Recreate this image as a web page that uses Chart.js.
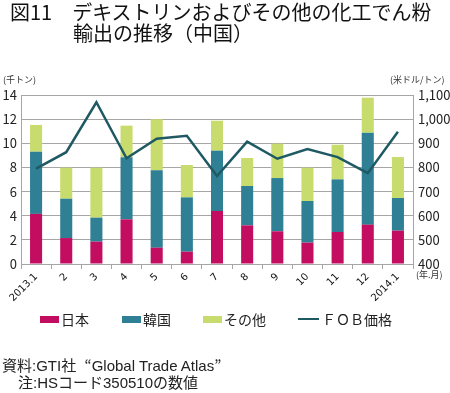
<!DOCTYPE html>
<html>
<head>
<meta charset="utf-8">
<script src="https://cdn.jsdelivr.net/npm/chart.js@4"></script>
<style>
  body { margin: 0; background: #fff; font-family: "Noto Sans CJK JP", sans-serif; color: #222; }
  #wrap { position: relative; width: 450px; height: 393px; overflow: hidden; }
  #myChart { position: absolute; left: 0; top: 0; }
  .t { position: absolute; white-space: nowrap; }
  .title { font-size: 20px; line-height: 20px; color: #111; }
  .unit { font-size: 9px; color: #333; }
  .leg { font-size: 14px; line-height: 14px; }
  .box { position: absolute; width: 19px; height: 7px; }
  .foot { font-size: 15px; line-height: 16px; font-family: "Liberation Sans", "Noto Sans CJK JP", sans-serif; }
  .cjk { font-family: "Noto Sans CJK JP", sans-serif; }
</style>
</head>
<body>
<div id="wrap">
  <canvas id="myChart" width="450" height="393"></canvas>
  <div class="t title" style="left:10px;top:2px;">図11　デキストリンおよびその他の化工でん粉</div>
  <div class="t title" style="left:73px;top:23px;">輸出の推移（中国）</div>
  <div class="t unit" style="left:3px;top:73px;">(千トン)</div>
  <div class="t unit" style="left:390px;top:73px;">(米ドル/トン)</div>
  <div class="t unit" style="left:416px;top:268px;">(年.月)</div>

  <div class="box" style="left:40px;top:316px;background:#C20D60;"></div>
  <div class="t leg" style="left:61px;top:312px;">日本</div>
  <div class="box" style="left:122px;top:316px;background:#2F7F95;"></div>
  <div class="t leg" style="left:143px;top:312px;">韓国</div>
  <div class="box" style="left:203px;top:316px;background:#C8DC6E;"></div>
  <div class="t leg" style="left:224px;top:312px;">その他</div>
  <div class="box" style="left:298px;top:318px;height:2px;width:21px;background:#1F5A64;"></div>
  <div class="t leg" style="left:322px;top:312px;">ＦＯＢ価格</div>

  <div class="t foot" style="left:2px;top:357px;">資料:GTI社&nbsp;&nbsp;<span class="cjk">“</span>Global Trade Atlas<span class="cjk">”</span></div>
  <div class="t foot" style="left:18px;top:375px;">注:HSコード350510の数値</div>
</div>
<script>
var months = ["2013.1", "2", "3", "4", "5", "6", "7", "8", "9", "10", "11", "12", "2014.1"];
var japan = [4.15, 2.15, 1.85, 3.7, 1.35, 1.02, 4.39, 3.2, 2.71, 1.77, 2.65, 3.26, 2.76];
var korea = [5.15, 3.26, 1.99, 5.14, 6.41, 4.5, 5.0, 3.26, 4.41, 3.45, 4.36, 7.62, 2.71];
var others = [2.22, 2.57, 4.14, 2.62, 4.23, 2.68, 2.48, 2.32, 2.85, 2.76, 2.87, 2.9, 3.39];
var fobPrice = [795, 863, 1070, 838, 919, 931, 764, 907, 836, 876, 843, 776, 948];

var gridColor = "#a6a6a6";
var tickFont = { family: "'Noto Sans CJK JP', sans-serif", size: 13 };

new Chart("myChart", {
  type: "bar",
  data: {
    labels: months,
    datasets: [
      { type: "line", label: "ＦＯＢ価格", data: fobPrice, yAxisID: "y1",
        borderColor: "#1F5A64", borderWidth: 2.5, pointRadius: 0, tension: 0, order: 0 },
      { label: "日本", data: japan, backgroundColor: "#C20D60", yAxisID: "y", order: 1 },
      { label: "韓国", data: korea, backgroundColor: "#2F7F95", yAxisID: "y", order: 1 },
      { label: "その他", data: others, backgroundColor: "#C8DC6E", yAxisID: "y", order: 1 },
    ],
  },
  options: {
    responsive: false,
    animation: false,
    barPercentage: 0.4,
    categoryPercentage: 1,
    layout: { padding: { top: 95, bottom: 89, left: 0, right: 0 } },
    plugins: { legend: { display: false }, tooltip: { enabled: false } },
    scales: {
      x: {
        stacked: true,
        afterFit: function (s) { s.height = 40; },
        grid: { drawOnChartArea: false, drawTicks: true, tickLength: 5, color: gridColor, offset: true },
        border: { color: gridColor },
        ticks: { minRotation: 45, maxRotation: 45, color: "#111", padding: 2,
          font: { family: "'DejaVu Sans', sans-serif", size: 10 } },
      },
      y: {
        stacked: true,
        position: "left",
        min: 0, max: 14,
        afterFit: function (s) { s.width = 21; },
        grid: { color: gridColor, drawTicks: false },
        border: { color: gridColor },
        ticks: { stepSize: 2, padding: 4, color: "#222", font: tickFont },
      },
      y1: {
        position: "right",
        min: 400, max: 1100,
        afterFit: function (s) { s.width = 37; },
        grid: { drawOnChartArea: false, drawTicks: false },
        border: { color: gridColor },
        ticks: { stepSize: 100, padding: 5, color: "#222", font: tickFont,
          callback: function (v) { return v.toLocaleString("en-US"); } },
      },
    },
  },
});
</script>
</body>
</html>
